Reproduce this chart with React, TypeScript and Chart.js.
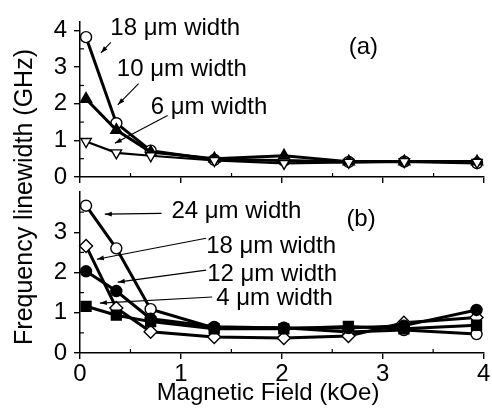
import React, { useEffect, useRef } from "react";
import { Chart, registerables } from "chart.js";

Chart.register(...registerables);

const FONT = "'Liberation Sans', Arial, Helvetica, sans-serif";
const W = 492;
const H = 409;

// Shared x values (kOe)
const fieldKOe = [0.06, 0.36, 0.7, 1.33, 2.02, 2.66, 3.21, 3.93];
const xTickValues = [0, 1, 2, 3, 4];
const xMinorValues = [0.5, 1.5, 2.5, 3.5];

// Panel (a)
const topYTicks = [0, 1, 2, 3, 4];
const topYMinor = [0.5, 1.5, 2.5, 3.5];
const a18um = [3.82, 1.47, 0.72, 0.47, 0.45, 0.41, 0.42, 0.38];
const a10um = [2.13, 1.28, 0.68, 0.5, 0.58, 0.42, 0.42, 0.42];
const a6um = [0.97, 0.66, 0.58, 0.45, 0.37, 0.4, 0.42, 0.4];

// Panel (b)
const bottomYTicks = [0, 1, 2, 3];
const bottomYMinor = [0.5, 1.5, 2.5, 3.5];
const b24um = [3.66, 2.6, 1.09, 0.62, 0.63, 0.52, 0.57, 0.47];
const b18um = [2.66, 1.12, 0.53, 0.4, 0.37, 0.42, 0.75, 0.88];
const b12um = [2.03, 1.54, 0.85, 0.65, 0.62, 0.62, 0.68, 1.07];
const b4um = [1.16, 0.94, 0.78, 0.6, 0.6, 0.66, 0.6, 0.69];

// Annotation texts
const topLabelTexts = ["18 μm width", "10 μm width", "6 μm width", "(a)"];
const bottomLabelTexts = ["24 μm width", "18 μm width", "12 μm width", "4 μm width", "(b)"];
const yTitle = "Frequency linewidth (GHz)";
const xTitle = "Magnetic Field (kOe)";

// Annotation anchors in data units (text left/baseline, arrows from -> to)
const topLabelAnchors = [
  [0.3, 3.87],
  [0.365, 2.76],
  [0.7, 1.71],
  [2.66, 3.37],
];
const topArrowAnchors = [
  [0.305, 3.68, 0.207, 3.39],
  [0.58, 2.55, 0.374, 1.97],
  [0.867, 1.68, 0.345, 0.92],
];
const bottomLabelAnchors = [
  [0.906, 3.35],
  [1.25, 2.48],
  [1.26, 1.785],
  [1.35, 1.19],
  [2.64, 3.15],
];
const bottomArrowAnchors = [
  [0.808, 3.47, 0.246, 3.45],
  [1.25, 2.85, 0.167, 2.33],
  [1.25, 2.06, 0.374, 1.76],
  [1.31, 1.39, 0.197, 1.24],
];

const toPoints = (ys: number[]) => fieldKOe.map((x, i) => ({ x, y: ys[i] }));

function series(data: number[], style: string, filled: boolean, radius: number, rotation = 0, bw = 3) {
  return {
    data: toPoints(data),
    borderColor: "#000",
    borderWidth: bw,
    pointStyle: style,
    pointRotation: rotation,
    pointRadius: radius,
    pointBorderWidth: 1.4,
    pointBorderColor: "#000",
    pointBackgroundColor: filled ? "#000" : "#fff",
    fill: false,
    tension: 0,
    clip: false,
  };
}

function drawArrow(ctx: CanvasRenderingContext2D, x1: number, y1: number, x2: number, y2: number) {
  ctx.beginPath();
  ctx.moveTo(x1, y1);
  ctx.lineTo(x2, y2);
  ctx.lineWidth = 1.1;
  ctx.stroke();
  const ang = Math.atan2(y2 - y1, x2 - x1);
  const len = 7;
  const hw = 2.4;
  ctx.beginPath();
  ctx.moveTo(x2, y2);
  ctx.lineTo(x2 - len * Math.cos(ang) + hw * Math.sin(ang), y2 - len * Math.sin(ang) - hw * Math.cos(ang));
  ctx.lineTo(x2 - len * Math.cos(ang) - hw * Math.sin(ang), y2 - len * Math.sin(ang) + hw * Math.cos(ang));
  ctx.closePath();
  ctx.fill();
}

const decorPlugin = {
  id: "decor",
  afterDatasetsDraw(chart: any, _args: any, opts: any) {
    const { ctx, chartArea } = chart;
    const xs = chart.scales.x;
    const ys = chart.scales.y;
    ctx.save();
    ctx.strokeStyle = "#000";
    ctx.fillStyle = "#000";
    ctx.lineWidth = 1.2;
    // minor ticks (inward)
    for (const v of xMinorValues) {
      const px = xs.getPixelForValue(v);
      ctx.beginPath();
      ctx.moveTo(px, chartArea.bottom);
      ctx.lineTo(px, chartArea.bottom - 4);
      ctx.stroke();
    }
    for (const v of opts.yMinor) {
      if (v > ys.max) continue;
      const py = ys.getPixelForValue(v);
      ctx.beginPath();
      ctx.moveTo(chartArea.left, py);
      ctx.lineTo(chartArea.left + 4, py);
      ctx.stroke();
    }
    // labels
    ctx.font = `24px ${FONT}`;
    ctx.textAlign = "left";
    ctx.textBaseline = "alphabetic";
    opts.texts.forEach((t: string, i: number) => {
      const [x, y] = opts.anchors[i];
      ctx.fillText(t, xs.getPixelForValue(x), ys.getPixelForValue(y));
    });
    for (const [x1, y1, x2, y2] of opts.arrows) {
      drawArrow(ctx, xs.getPixelForValue(x1), ys.getPixelForValue(y1), xs.getPixelForValue(x2), ys.getPixelForValue(y2));
    }
    if (opts.titles) {
      ctx.font = `24px ${FONT}`;
      ctx.textAlign = "center";
      ctx.textBaseline = "alphabetic";
      ctx.fillText(xTitle, 268, 400);
      ctx.save();
      ctx.translate(32, 197);
      ctx.rotate(-Math.PI / 2);
      ctx.font = `25px ${FONT}`;
      ctx.fillText(yTitle, 0, 0);
      ctx.restore();
    }
    ctx.restore();
  },
};

function makeConfig(
  datasets: any[],
  yMax: number,
  yTicks: number[],
  padTop: number,
  padBottom: number,
  xAxisHeight: number,
  showXLabels: boolean,
  decor: any
): any {
  return {
    type: "line",
    data: { datasets },
    plugins: [decorPlugin],
    options: {
      responsive: false,
      animation: false,
      layout: { padding: { top: padTop, bottom: padBottom, left: 0, right: 6 } },
      plugins: { legend: { display: false }, tooltip: { enabled: false }, decor },
      scales: {
        x: {
          type: "linear",
          min: 0,
          max: 4,
          afterBuildTicks: (s: any) => {
            s.ticks = xTickValues.map((v) => ({ value: v }));
          },
          afterFit: (s: any) => {
            s.height = xAxisHeight;
          },
          ticks: {
            display: showXLabels,
            font: { family: FONT, size: 24 },
            color: "#000",
            padding: 1,
            maxRotation: 0,
            autoSkip: false,
          },
          grid: { drawOnChartArea: false, drawTicks: true, tickLength: 6, color: "#000", lineWidth: 1.4 },
          border: { display: true, color: "#000", width: 1.5 },
        },
        y: {
          type: "linear",
          min: 0,
          max: yMax,
          afterBuildTicks: (s: any) => {
            s.ticks = yTicks.map((v) => ({ value: v }));
          },
          afterFit: (s: any) => {
            s.width = 80;
          },
          ticks: {
            font: { family: FONT, size: 24 },
            color: "#000",
            padding: 7,
          },
          grid: { drawOnChartArea: false, drawTicks: true, tickLength: 6, color: "#000", lineWidth: 1.4 },
          border: { display: true, color: "#000", width: 1.5 },
        },
      },
    },
  };
}

export default function App() {
  const topRef = useRef<HTMLCanvasElement>(null);
  const botRef = useRef<HTMLCanvasElement>(null);

  useEffect(() => {
    const top = new Chart(
      topRef.current as HTMLCanvasElement,
      makeConfig(
        [
          series(a6um, "triangle", false, 6, 180, 2.2),
          series(a10um, "triangle", true, 6.5, 0, 3),
          series(a18um, "circle", false, 5.5, 0, 3),
        ],
        4.25,
        topYTicks,
        15,
        224,
        8,
        false,
        { yMinor: topYMinor, texts: topLabelTexts, anchors: topLabelAnchors, arrows: topArrowAnchors, titles: false }
      )
    );
    const bot = new Chart(
      botRef.current as HTMLCanvasElement,
      makeConfig(
        [
          series(b4um, "rect", true, 7, 0, 3),
          series(b12um, "circle", true, 5.5, 0, 3),
          series(b18um, "rectRot", false, 6.5, 0, 3),
          series(b24um, "circle", false, 5.5, 0, 3),
        ],
        4,
        bottomYTicks,
        192,
        0,
        56,
        true,
        { yMinor: bottomYMinor, texts: bottomLabelTexts, anchors: bottomLabelAnchors, arrows: bottomArrowAnchors, titles: true }
      )
    );
    return () => {
      top.destroy();
      bot.destroy();
    };
  }, []);

  const cs: React.CSSProperties = { position: "absolute", left: 0, top: 0, width: W, height: H };
  return (
    <div style={{ position: "absolute", left: 0, top: 0, width: W, height: H, background: "#fff" }}>
      <canvas ref={topRef} width={W} height={H} style={cs} />
      <canvas ref={botRef} width={W} height={H} style={cs} />
    </div>
  );
}
